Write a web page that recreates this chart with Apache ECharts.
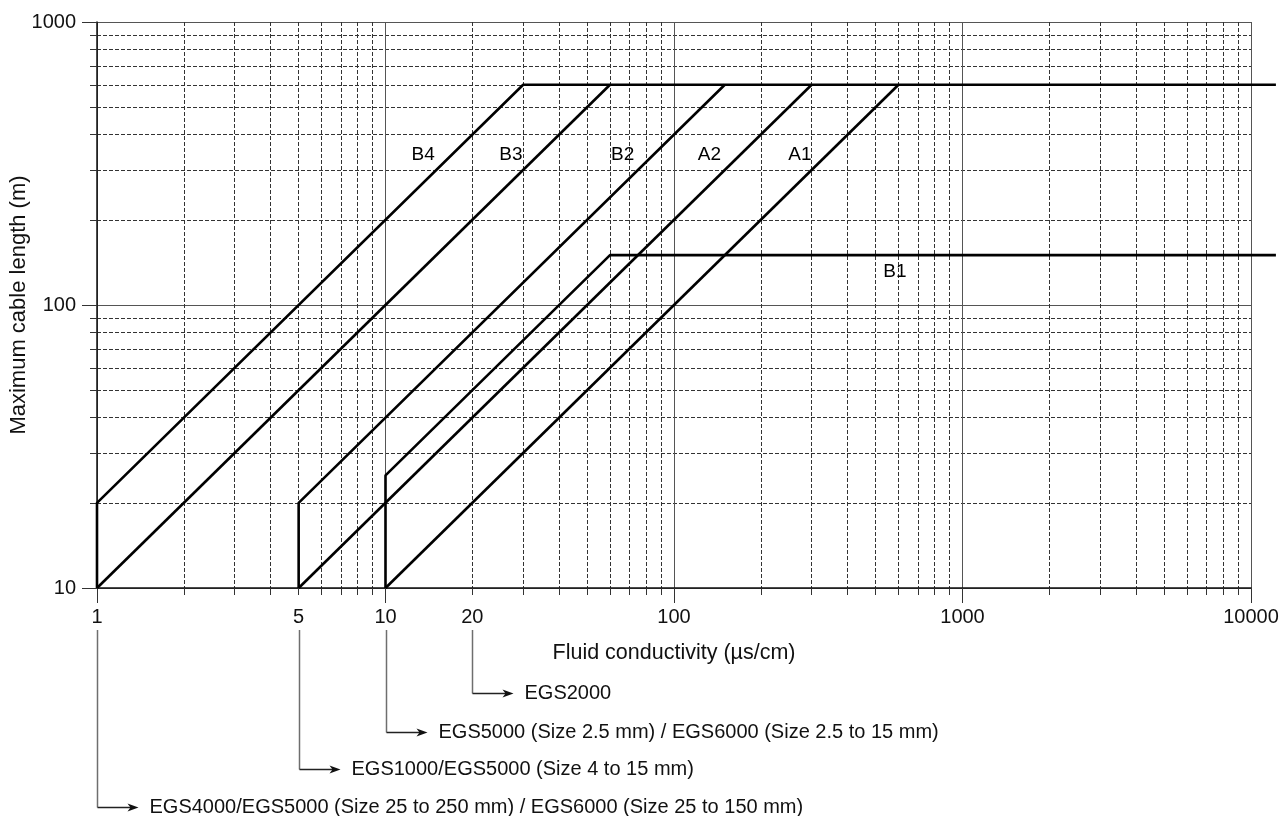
<!DOCTYPE html>
<html><head><meta charset="utf-8">
<script src="https://cdn.jsdelivr.net/npm/echarts@6/dist/echarts.min.js"></script>
<style>html,body{margin:0;padding:0;background:#fff}#c{width:1283px;height:816px}</style>
</head><body><div id="c"></div>
<script>
// ---- data ----
const xTickLabels = [1, 5, 10, 20, 100, 1000, 10000];
const xMajorTicks = [1, 10, 100, 1000, 10000];
const xMinorTicks = [2,3,4,5,6,7,8,9,20,30,40,50,60,70,80,90,200,300,400,500,600,700,800,900,2000,3000,4000,5000,6000,7000,8000,9000];
const yTickLabels = [10, 100, 1000];
const yMajorTicks = [10, 100, 1000];
const yMinorTicks = [20,30,40,50,60,70,80,90,200,300,400,500,600,700,800,900];
const xOverhangMax = 12200; // curves run a little past the right frame

const B4 = [[1,10],[1,20],[30,600],[12200,600]];
const B3 = [[1,10],[60,600]];
const B2 = [[5,10],[5,20],[150,600]];
const A2 = [[5,10],[300,600]];
const B1 = [[10,10],[10,25],[60,150],[12200,150]];
const A1 = [[10,10],[600,600]];

const curveLabels = [[13.5,340,'B4'],[27.2,340,'B3'],[66.4,340,'B2'],[132.6,340,'A2'],[273,340,'A1'],[583,131,'B1']];

const notes = [
  {at: 20, text: 'EGS2000'},
  {at: 10, text: 'EGS5000 (Size 2.5 mm) / EGS6000 (Size 2.5 to 15 mm)'},
  {at: 5,  text: 'EGS1000/EGS5000 (Size 4 to 15 mm)'},
  {at: 1,  text: 'EGS4000/EGS5000 (Size 25 to 250 mm) / EGS6000 (Size 25 to 150 mm)'}
];
const noteRowsY = [693, 732, 769, 807];

// ---- chart ----
const FONT = '"Liberation Sans", Arial, Helvetica, sans-serif';
const W = 1283, G_LEFT = 97, G_RIGHT = 32;
const plotW = W - G_LEFT - G_RIGHT;
const overRight = W - G_LEFT - plotW * Math.log10(xOverhangMax) / 4;

const chart = echarts.init(document.getElementById('c'), null, {renderer: 'canvas'});
const lineSeries = (name, data) => ({
  name, type: 'line', data, xAxisIndex: 2, yAxisIndex: 2, symbol: 'none', clip: false,
  lineStyle: {color: '#000', width: 2.6}, z: 5, animation: false
});
const fmt = v => String(v);
chart.setOption({
  animation: false,
  backgroundColor: '#fff',
  grid: [
    {left: G_LEFT, right: G_RIGHT, top: 22, bottom: 228, containLabel: false, outerBoundsMode: 'none'},
    {left: G_LEFT, right: overRight, top: 22, bottom: 228, containLabel: false, outerBoundsMode: 'none'}
  ],
  xAxis: [
    {type: 'log', logBase: 10, min: 1, max: 10000, position: 'bottom', gridIndex: 0,
     name: 'Fluid conductivity (µs/cm)', nameLocation: 'middle', nameGap: 54, nameMoveOverlap: false,
     nameTextStyle: {fontSize: 21.5, color: '#111', fontFamily: FONT},
     axisLine: {show: true, lineStyle: {color: '#111', width: 1.5}},
     axisTick: {show: true, customValues: xMajorTicks, length: 15, lineStyle: {color: '#333', width: 1}},
     axisLabel: {show: true, customValues: xTickLabels, formatter: fmt, fontSize: 20, color: '#111', margin: 19, fontFamily: FONT},
     splitLine: {show: true, lineStyle: {color: '#555', width: 1, type: 'solid'}}},
    {type: 'log', logBase: 10, min: 1, max: 10000, position: 'bottom', gridIndex: 0,
     axisLine: {show: false},
     axisTick: {show: true, customValues: xMinorTicks, length: 7, lineStyle: {color: '#333', width: 1}},
     axisLabel: {show: false},
     splitLine: {show: true, lineStyle: {color: '#333', width: 1, type: [4, 2]}}},
    {type: 'log', logBase: 10, min: 1, max: xOverhangMax, gridIndex: 1, show: false}
  ],
  yAxis: [
    {type: 'log', logBase: 10, min: 10, max: 1000, position: 'left', gridIndex: 0,
     name: 'Maximum cable length (m)', nameLocation: 'middle', nameGap: 67, nameRotate: 90, nameMoveOverlap: false,
     nameTextStyle: {fontSize: 22, color: '#111', fontFamily: FONT},
     axisLine: {show: true, lineStyle: {color: '#111', width: 1.5}},
     axisTick: {show: true, customValues: yMajorTicks, length: 15, lineStyle: {color: '#333', width: 1}},
     axisLabel: {show: true, customValues: yTickLabels, formatter: fmt, fontSize: 20, color: '#111', margin: 21, fontFamily: FONT},
     splitLine: {show: true, lineStyle: {color: '#555', width: 1, type: 'solid'}}},
    {type: 'log', logBase: 10, min: 10, max: 1000, position: 'left', gridIndex: 0,
     axisLine: {show: false},
     axisTick: {show: true, customValues: yMinorTicks, length: 7, lineStyle: {color: '#333', width: 1}},
     axisLabel: {show: false},
     splitLine: {show: true, lineStyle: {color: '#333', width: 1, type: [4, 2]}}},
    {type: 'log', logBase: 10, min: 10, max: 1000, gridIndex: 1, show: false}
  ],
  series: [
    lineSeries('B4', B4), lineSeries('B3', B3), lineSeries('B2', B2),
    lineSeries('A2', A2), lineSeries('B1', B1), lineSeries('A1', A1),
    {type: 'scatter', xAxisIndex: 0, yAxisIndex: 0, symbolSize: 0, z: 6,
     itemStyle: {opacity: 1, color: '#000'},
     data: curveLabels.map(d => ({value: [d[0], d[1]], name: d[2]})),
     label: {show: true, position: 'inside', formatter: p => p.name, fontSize: 19, color: '#000',
             opacity: 1, textBorderWidth: 0, fontFamily: FONT}}
  ]
});

// annotation arrows beneath the x axis, anchored on axis values
const graphics = [];
notes.forEach((n, i) => {
  const x = Math.round(chart.convertToPixel({xAxisIndex: 0}, n.at)) + 0.5;
  const y = noteRowsY[i] + 0.5;
  const tip = x + 41;
  graphics.push({type: 'polyline', shape: {points: [[x, 630], [x, y]]}, style: {stroke: '#6e6e6e', lineWidth: 1.5, fill: null}, silent: true});
  graphics.push({type: 'polyline', shape: {points: [[x, y], [tip - 6, y]]}, style: {stroke: '#222', lineWidth: 1.3, fill: null}, silent: true});
  graphics.push({type: 'polygon', shape: {points: [[tip - 11, y - 4], [tip, y], [tip - 11, y + 4], [tip - 8, y]]}, style: {fill: '#111'}, silent: true});
  graphics.push({type: 'text', x: tip + 11, y: y, style: {text: n.text, fontSize: 20, fill: '#111', fontFamily: FONT, verticalAlign: 'middle', align: 'left'}, silent: true});
});
chart.setOption({graphic: graphics});
</script></body></html>
